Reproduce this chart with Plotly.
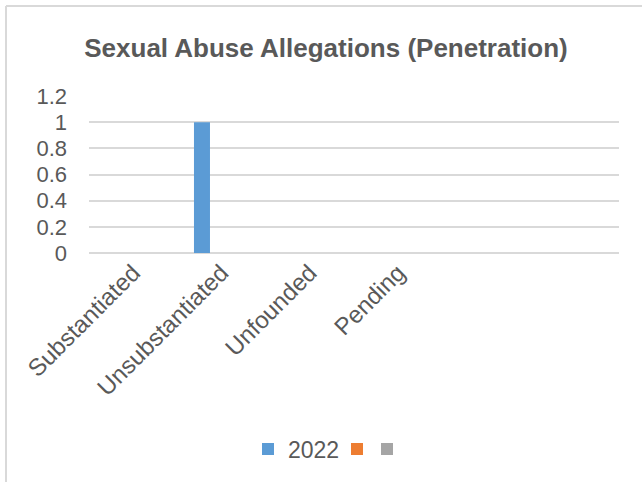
import plotly.graph_objects as go

categories = ["Substantiated", "Unsubstantiated", "Unfounded", "Pending", "", ""]
positions = [0, 1, 2, 3, 4, 5]
series_names = ["2022", "", ""]
series_values = [
    [0, 1, 0, 0, 0, 0],
    [0, 0, 0, 0, 0, 0],
    [0, 0, 0, 0, 0, 0],
]
series_colors = ["#5B9BD5", "#ED7D31", "#A5A5A5"]
y_ticks = [0, 0.2, 0.4, 0.6, 0.8, 1, 1.2]

legend_ids = ["legend", "legend2", "legend3"]
legend_left_px = [248, 337, 367]

fig = go.Figure()
for name, vals, col, lg in zip(series_names, series_values, series_colors, legend_ids):
    fig.add_trace(go.Bar(x=positions, y=vals, name=name, marker_color=col,
                         marker_line_width=0, legend=lg, showlegend=True))

L, R, T, B = 89, 23, 96, 229
W, H = 642, 482
pw, ph = W - L - R, H - T - B

def legend_cfg(xpx):
    return dict(orientation="h", x=xpx / W, xanchor="left", xref="container",
                y=1 - 449 / H, yanchor="middle", yref="container",
                font=dict(size=23, color="#595959"), itemwidth=30,
                bgcolor="rgba(0,0,0,0)", borderwidth=0)

fig.update_layout(
    width=W, height=H,
    margin=dict(l=L, r=R, t=T, b=B, pad=0),
    paper_bgcolor="white", plot_bgcolor="white",
    barmode="group", bargap=0.337, bargroupgap=0.18,
    font=dict(family="Liberation Sans, Arial, sans-serif", color="#595959"),
    title=dict(text="<b>Sexual Abuse Allegations (Penetration)</b>",
               font=dict(size=26, color="#595959"),
               x=326 / W, xanchor="center", xref="container",
               y=1 - 48 / H, yanchor="middle", yref="container"),
    showlegend=True,
    legend=legend_cfg(legend_left_px[0]),
    legend2=legend_cfg(legend_left_px[1]),
    legend3=legend_cfg(legend_left_px[2]),
    xaxis=dict(range=[-0.5, 5.5], tickmode="array", tickvals=positions[:4],
               ticktext=categories[:4], tickangle=-45, showgrid=False,
               zeroline=False, showline=False, ticks="",
               tickfont=dict(size=24, color="#595959")),
    yaxis=dict(range=[0, 1.2], tickmode="array", tickvals=y_ticks,
               ticktext=[("%g" % v) for v in y_ticks],
               showgrid=True, gridcolor="#D9D9D9", gridwidth=1.5,
               zeroline=True, zerolinecolor="#D9D9D9", zerolinewidth=1.5,
               showline=False, ticks="", ticklabelstandoff=21,
               tickfont=dict(size=22, color="#595959")),
)

# chart-area frame (top and left edges visible)
x_left = (6 - L) / pw
x_right = (W - L) / pw
y_top = (H - B - 6) / ph
y_bot = (H - B - H) / ph
fig.add_shape(type="line", xref="paper", yref="paper", x0=x_left, x1=x_right,
              y0=y_top, y1=y_top, line=dict(color="#D9D9D9", width=2))
fig.add_shape(type="line", xref="paper", yref="paper", x0=x_left, x1=x_left,
              y0=y_top, y1=y_bot, line=dict(color="#D9D9D9", width=2))

fig.write_html("out.html", config={"displayModeBar": False},
               post_script="document.body.style.margin='0';document.body.style.overflow='hidden';")
